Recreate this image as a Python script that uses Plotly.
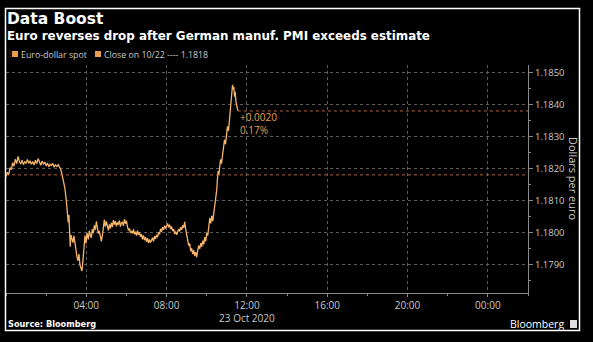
import plotly.graph_objects as go

# Euro-dollar spot, 23 Oct 2020 (local time), intraday
times = [
    "00:00", "00:04", "00:08", "00:12", "00:16", "00:20", "00:24", "00:28", "00:32", "00:36",
    "00:40", "00:44", "00:48", "00:52", "00:56", "01:00", "01:04", "01:08", "01:12", "01:16",
    "01:20", "01:24", "01:28", "01:32", "01:36", "01:40", "01:44", "01:48", "01:52", "01:56",
    "02:00", "02:04", "02:08", "02:12", "02:16", "02:20", "02:24", "02:28", "02:32", "02:36",
    "02:40", "02:44", "02:48", "02:52", "02:56", "03:00", "03:03", "03:06", "03:08", "03:10",
    "03:12", "03:14", "03:17", "03:20", "03:23", "03:26", "03:29", "03:32", "03:35", "03:38",
    "03:41", "03:44", "03:47", "03:50", "03:53", "03:56", "03:59", "04:02", "04:06", "04:09",
    "04:12", "04:15", "04:18", "04:21", "04:24", "04:27", "04:30", "04:33", "04:36", "04:39",
    "04:42", "04:45", "04:48", "04:51", "04:54", "04:57", "05:00", "05:03", "05:06", "05:09",
    "05:12", "05:15", "05:18", "05:21", "05:24", "05:27", "05:30", "05:33", "05:36", "05:39",
    "05:42", "05:45", "05:48", "05:51", "05:54", "05:57", "06:00", "06:03", "06:06", "06:09",
    "06:12", "06:15", "06:18", "06:21", "06:24", "06:27", "06:30", "06:33", "06:36", "06:39",
    "06:42", "06:45", "06:48", "06:51", "06:54", "06:57", "07:00", "07:03", "07:06", "07:09",
    "07:12", "07:15", "07:18", "07:21", "07:24", "07:27", "07:30", "07:33", "07:36", "07:39",
    "07:42", "07:45", "07:48", "07:51", "07:54", "07:57", "08:00", "08:03", "08:06", "08:09",
    "08:12", "08:15", "08:18", "08:21", "08:24", "08:27", "08:30", "08:33", "08:36", "08:39",
    "08:42", "08:45", "08:48", "08:51", "08:54", "08:57", "09:00", "09:03", "09:06", "09:09",
    "09:12", "09:15", "09:18", "09:21", "09:24", "09:27", "09:30", "09:33", "09:36", "09:39",
    "09:42", "09:45", "09:48", "09:51", "09:54", "09:57", "10:00", "10:03", "10:06", "10:09",
    "10:12", "10:15", "10:18", "10:21", "10:24", "10:27", "10:30", "10:32", "10:34", "10:36",
    "10:38", "10:41", "10:44", "10:47", "10:50", "10:53", "10:56", "10:59", "11:02", "11:05",
    "11:08", "11:11", "11:13", "11:15", "11:17", "11:19", "11:21", "11:23", "11:25", "11:27",
    "11:29", "11:31", "11:33",
]
spot = [
    1.18175, 1.18188, 1.18180, 1.18203, 1.18196, 1.18218, 1.18207, 1.18229, 1.18215, 1.18238,
    1.18222, 1.18214, 1.18226, 1.18212, 1.18221, 1.18217, 1.18228, 1.18216, 1.18224, 1.18213,
    1.18222, 1.18211, 1.18226, 1.18215, 1.18231, 1.18219, 1.18210, 1.18223, 1.18214, 1.18220,
    1.18208, 1.18217, 1.18205, 1.18213, 1.18209, 1.18216, 1.18204, 1.18211, 1.18206, 1.18212,
    1.18201, 1.18196, 1.18178, 1.18162, 1.18138, 1.18102, 1.18066, 1.18031, 1.18054, 1.17978,
    1.17955, 1.17992, 1.17981, 1.17968, 1.17989, 1.17962, 1.17940, 1.17925, 1.17911, 1.17932,
    1.17898, 1.17887, 1.17879, 1.17912, 1.17954, 1.17990, 1.17965, 1.17998, 1.17978, 1.18005,
    1.17990, 1.17983, 1.18010, 1.17997, 1.18022, 1.18008, 1.18034, 1.18015, 1.17996, 1.18004,
    1.17982, 1.17972, 1.17990, 1.18022, 1.18040, 1.18018, 1.18034, 1.18020, 1.18006, 1.18025,
    1.18012, 1.18030, 1.18016, 1.18038, 1.18024, 1.18035, 1.18019, 1.18031, 1.18024, 1.18037,
    1.18018, 1.18029, 1.18033, 1.18020, 1.18041, 1.18027, 1.18036, 1.18018, 1.18006, 1.18012,
    1.17998, 1.18004, 1.17996, 1.18009, 1.17994, 1.18002, 1.17990, 1.18005, 1.17992, 1.18000,
    1.17986, 1.17994, 1.17978, 1.17990, 1.17976, 1.17985, 1.17970, 1.17982, 1.17966, 1.17978,
    1.17968, 1.17975, 1.17983, 1.17972, 1.17988, 1.17980, 1.17992, 1.17985, 1.18000, 1.17994,
    1.18011, 1.18002, 1.18016, 1.18008, 1.18021, 1.18012, 1.18019, 1.18028, 1.18016, 1.18024,
    1.18010, 1.18018, 1.18004, 1.18010, 1.17995, 1.18003, 1.17992, 1.18001, 1.18010, 1.18003,
    1.18016, 1.18008, 1.18022, 1.18014, 1.18033, 1.18010, 1.17990, 1.17972, 1.17958, 1.17965,
    1.17941, 1.17950, 1.17932, 1.17944, 1.17926, 1.17938, 1.17922, 1.17945, 1.17958, 1.17948,
    1.17966, 1.17955, 1.17974, 1.17962, 1.17985, 1.17972, 1.17998, 1.17990, 1.18020, 1.18045,
    1.18028, 1.18052, 1.18035, 1.18060, 1.18084, 1.18112, 1.18135, 1.18170, 1.18192, 1.18178,
    1.18205, 1.18228, 1.18215, 1.18245, 1.18262, 1.18290, 1.18276, 1.18310, 1.18332, 1.18318,
    1.18355, 1.18372, 1.18410, 1.18438, 1.18462, 1.18448, 1.18455, 1.18425, 1.18440, 1.18410,
    1.18395, 1.18388, 1.18380,
]
prev_close = 1.1818
day = "2020-10-23"

x_tick_vals = ["2020-10-23 04:00", "2020-10-23 08:00", "2020-10-23 12:00",
               "2020-10-23 16:00", "2020-10-23 20:00", "2020-10-24 00:00"]
x_tick_text = ["04:00", "08:00", "12:00<br>23 Oct 2020", "16:00", "20:00", "00:00"]
y_tick_vals = [1.179, 1.180, 1.181, 1.182, 1.183, 1.184, 1.185]

W, H = 593, 342
L, R, T, B = 6, 528, 65, 293  # plot-area pixel bounds


def px(x):
    return (x - L) / (R - L)


def py(y):
    return (B - y) / (B - T)


stamps = [f"{day} {t}" for t in times]
last = spot[-1]
change = last - prev_close
pct = change / prev_close * 100

LINE = "#f5b46a"
ORANGE = "#e8a050"
REF = "#b8652e"
GRID = "#5c5c5c"
TXT = "#c9c9c9"
FONT = "Open Sans"
BOLD = "DejaVu Sans"

fig = go.Figure()
fig.add_trace(go.Scatter(
    x=stamps, y=spot, mode="lines",
    line=dict(color=LINE, width=1.3), hoverinfo="skip", showlegend=False,
))

# previous close and latest level reference lines
fig.add_shape(type="line", xref="paper", yref="y", x0=0, x1=1,
              y0=prev_close, y1=prev_close, line=dict(color=REF, width=1, dash="dot"))
fig.add_shape(type="line", xref="x", yref="y", x0=stamps[-1], x1="2020-10-24 02:00",
              y0=last, y1=last, line=dict(color=REF, width=1, dash="dot"))

fig.add_annotation(x=stamps[-1], y=last, xref="x", yref="y", xanchor="left", yanchor="middle",
                   xshift=0, yshift=-13, showarrow=False, align="left",
                   text=f"{change:+.4f}<br>{pct:.2f}%",
                   font=dict(family=FONT, size=10, color=ORANGE))

# outer frame
fig.add_shape(type="rect", xref="paper", yref="paper",
              x0=px(5.5), x1=px(579.5), y0=py(330.5), y1=py(8.5),
              line=dict(color="#ffffff", width=1.5))

# titles
fig.add_annotation(xref="paper", yref="paper", x=px(5), y=py(19), xanchor="left", yanchor="middle",
                   showarrow=False, text="<b>Data Boost</b>",
                   font=dict(family=BOLD, size=15.5, color="#ffffff"))
fig.add_annotation(xref="paper", yref="paper", x=px(5), y=py(36), xanchor="left", yanchor="middle",
                   showarrow=False, text="<b>Euro reverses drop after German manuf. PMI exceeds estimate</b>",
                   font=dict(family=BOLD, size=11.9, color="#ffffff"))

# legend
fig.add_annotation(xref="paper", yref="paper", x=px(7), y=py(54), xanchor="left", yanchor="middle",
                   showarrow=False, text="⁝", font=dict(family=FONT, size=8, color="#777777"))
for x0, label in [(12, "Euro-dollar spot"), (95, f"Close on 10/22 ---- {prev_close:.4f}")]:
    fig.add_shape(type="rect", xref="paper", yref="paper",
                  x0=px(x0), x1=px(x0 + 6), y0=py(57), y1=py(51),
                  fillcolor=ORANGE, line=dict(width=0))
    fig.add_annotation(xref="paper", yref="paper", x=px(x0 + 7), y=py(54.5),
                       xanchor="left", yanchor="middle", showarrow=False, text=label,
                       font=dict(family=FONT, size=8.8, color=TXT))

# axis title on the right
fig.add_annotation(xref="paper", yref="paper", x=px(574), y=py(179), xanchor="center", yanchor="middle",
                   showarrow=False, text="Dollars per euro", textangle=90,
                   font=dict(family=FONT, size=11, color=TXT))

# footer
fig.add_annotation(xref="paper", yref="paper", x=px(6), y=py(324), xanchor="left", yanchor="middle",
                   showarrow=False, text="<b>Source: Bloomberg</b>",
                   font=dict(family=BOLD, size=8.2, color="#ffffff"))
fig.add_annotation(xref="paper", yref="paper", x=px(566), y=py(324), xanchor="right", yanchor="middle",
                   showarrow=False, text="Bloomberg",
                   font=dict(family=FONT, size=10.5, color="#ffffff"))
fig.add_shape(type="rect", xref="paper", yref="paper",
              x0=px(570), x1=px(577), y0=py(328), y1=py(320),
              fillcolor="#e0e0e0", line=dict(width=0))

fig.update_xaxes(
    range=["2020-10-23 00:00", "2020-10-24 02:00"],
    tickmode="array", tickvals=x_tick_vals, ticktext=x_tick_text,
    showgrid=True, gridcolor=GRID, griddash="dot", gridwidth=1,
    showline=True, linecolor="#8a8a8a", linewidth=1,
    ticks="outside", ticklen=3, tickcolor="#8a8a8a",
    minor=dict(tickmode="linear", tick0="2020-10-23 02:00", dtick=7200000,
               ticks="outside", ticklen=2, tickcolor="#8a8a8a", showgrid=False),
    tickfont=dict(family=FONT, size=10, color=TXT),
    zeroline=False,
)
fig.update_yaxes(
    range=[1.1781, 1.18524], side="right",
    tickmode="array", tickvals=y_tick_vals, tickformat=".4f",
    showgrid=True, gridcolor=GRID, griddash="dot", gridwidth=1,
    showline=True, linecolor="#8a8a8a", linewidth=1,
    ticks="outside", ticklen=4, tickcolor="#8a8a8a",
    minor=dict(tickmode="linear", tick0=1.1785, dtick=0.0005,
               ticks="outside", ticklen=2, tickcolor="#8a8a8a", showgrid=False),
    tickfont=dict(family=FONT, size=9.5, color=TXT),
    zeroline=False,
)

fig.update_layout(
    width=W, height=H,
    margin=dict(l=L, r=W - R, t=T, b=H - B),
    paper_bgcolor="#000000", plot_bgcolor="#000000",
    showlegend=False,
)

fig.write_html("out.html")
